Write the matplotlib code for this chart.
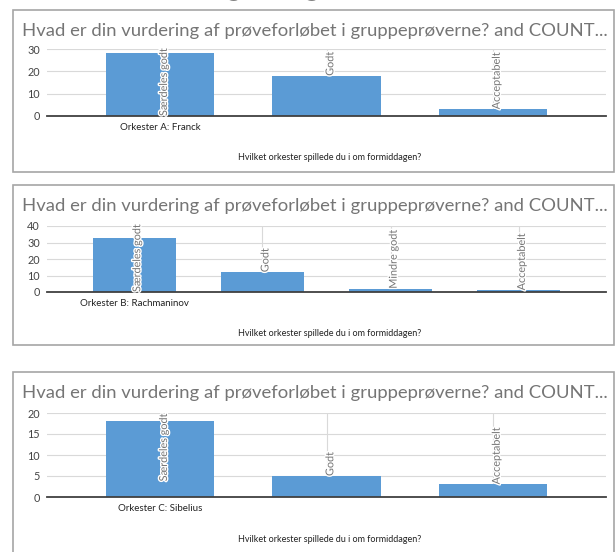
import matplotlib
matplotlib.use("Agg")
import matplotlib.pyplot as plt
import matplotlib.patheffects as pe
from matplotlib.patches import Rectangle

# data
title = "Hvad er din vurdering af prøveforløbet i gruppeprøverne? and COUNT..."
xlabel = "Hvilket orkester spillede du i om formiddagen?"

orch_a = "Orkester A: Franck"
ratings_a = ["Særdeles godt", "Godt", "Acceptabelt"]
counts_a = [28, 18, 3]
ticks_a = [0, 10, 20, 30]

orch_b = "Orkester B: Rachmaninov"
ratings_b = ["Særdeles godt", "Godt", "Mindre godt", "Acceptabelt"]
counts_b = [33, 12, 2, 1]
ticks_b = [0, 10, 20, 30, 40]

orch_c = "Orkester C: Sibelius"
ratings_c = ["Særdeles godt", "Godt", "Acceptabelt"]
counts_c = [18, 5, 3]
ticks_c = [0, 5, 10, 15, 20]

W, H = 616, 552
BLUE = "#5b9bd5"
FONT = ["Lato", "DejaVu Sans"]

plt.rcParams["font.family"] = FONT

fig = plt.figure(figsize=(W / 100, H / 100), dpi=100)


def box(x0, y0, x1, y1):
    # pixel box (top-left origin) -> figure fraction rect
    return [x0 / W, 1 - y1 / H, (x1 - x0) / W, (y1 - y0) / H]


def panel(top, bottom, plot_top, plot_bot, xlab_y, orch, ratings, counts, ticks):
    # outer frame
    fig.patches.append(Rectangle((13 / W, 1 - bottom / H), (614 - 13) / W, (bottom - top) / H,
                                 transform=fig.transFigure, fill=False,
                                 edgecolor="#a6a6a6", linewidth=1.2))
    fig.text(22 / W, 1 - (top + 21) / H, title, fontsize=13.3, color="#757575",
             va="center", ha="left")
    fig.text(330 / W, 1 - xlab_y / H, xlabel, fontsize=6.5, color="#222222",
             ha="center", va="center")

    ax = fig.add_axes(box(47, plot_top, 606, plot_bot))
    n = len(counts)
    pos = list(range(n))
    ax.bar(pos, counts, width=0.65, color=BLUE, zorder=2)
    ax.set_xlim(-0.68, n - 1 + 0.68)
    ax.set_ylim(0, ticks[-1])
    ax.set_yticks(ticks)
    ax.set_yticklabels([str(t) for t in ticks], fontsize=7.8, color="#444444")
    ax.set_xticks(pos)
    ax.set_xticklabels([orch] + [""] * (n - 1), fontsize=7, color="#222222")
    ax.tick_params(length=0, pad=5)
    ax.grid(True, color="#d9d9d9", linewidth=0.8, zorder=0)
    for s in ["top", "right", "left"]:
        ax.spines[s].set_visible(False)
    ax.spines["bottom"].set_color("#404040")
    ax.spines["bottom"].set_linewidth(1.3)
    ax.spines["bottom"].set_zorder(3)

    labels = []
    for x, v, r in zip(pos, counts, ratings):
        t = ax.text(x + 0.02, v, r, rotation=90, ha="center", va="bottom",
                    fontsize=7.8, color="#757575", zorder=4,
                    path_effects=[pe.withStroke(linewidth=2, foreground="white")])
        labels.append((t, v))
    return ax, labels


panels = [
    panel(10, 172, 49, 116, 157, orch_a, ratings_a, counts_a, ticks_a),
    panel(185, 345, 226, 292, 334, orch_b, ratings_b, counts_b, ticks_b),
    panel(372, 560, 413, 497, 540, orch_c, ratings_c, counts_c, ticks_c),
]

# push data labels down when they would stick out of the plot
fig.canvas.draw()
rend = fig.canvas.get_renderer()
for ax, labels in panels:
    ymax = ax.get_ylim()[1]
    inv = ax.transData.inverted()
    for t, v in labels:
        bb = t.get_window_extent(rend)
        L = inv.transform((0, bb.y1))[1] - inv.transform((0, bb.y0))[1]
        if v + L > ymax:
            t.set_y(max(ymax - L, 0))

# bottom of the page heading, cut off by the screenshot
fig.text(330 / W, 1 + 7 / H, "Vurdering af gruppeprøverne", fontsize=30,
         fontweight="bold", color="black", ha="center", va="baseline")

fig.savefig("out.png", dpi=100)
